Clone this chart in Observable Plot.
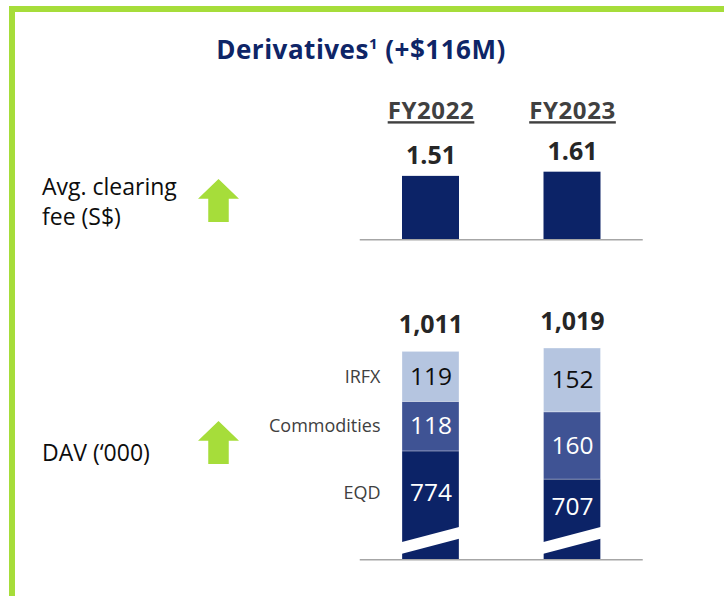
<!DOCTYPE html>
<html><head><meta charset="utf-8">
<script src="https://cdn.jsdelivr.net/npm/d3@7"></script>
<script src="https://cdn.jsdelivr.net/npm/@observablehq/plot@0.6"></script>
<style>
html,body{margin:0;padding:0;background:#fff;width:724px;height:596px;overflow:hidden;}
#stage{position:relative;width:724px;height:596px;overflow:hidden;font-family:"Open Sans",sans-serif;}
#frame{position:absolute;left:9px;top:6px;width:800px;height:596px;box-sizing:border-box;border:6px solid #a6dd3a;}
#title{position:absolute;left:0;top:36px;width:722px;text-align:center;font-size:26px;line-height:26px;letter-spacing:0.5px;font-weight:700;color:#0e2567;white-space:nowrap;}
#title .sup{font-size:15px;vertical-align:10px;line-height:0;}
.lbl{position:absolute;left:42px;font-size:23px;line-height:30px;color:#0d0d0d;white-space:nowrap;}
.arrow{position:absolute;left:198px;width:41px;height:43px;background:#a6dd3a;
  clip-path:polygon(50% 0,100% 46%,75% 46%,75% 100%,25% 100%,25% 46%,0 46%);}
.plot{position:absolute;left:0;}
g[aria-description="header"] text{text-decoration:underline;text-decoration-thickness:2px;text-underline-offset:3px;letter-spacing:0.6px;}
</style>
</head><body>
<div id="stage">
  <div id="frame"></div>
  <div id="title">Derivatives<span class="sup">1</span> (+$116M)</div>
  <div class="lbl" style="top:171px">Avg. clearing<br>fee (S$)</div>
  <div class="arrow" style="top:179px"></div>
  <div class="lbl" style="top:437px">DAV (‘000)</div>
  <div class="arrow" style="top:421px"></div>
</div>
<script>
// ---- data ----
const years = ["FY2022", "FY2023"];
const avgFee = [1.51, 1.61];
const segments = ["EQD", "Commodities", "IRFX"];
const eqd = [774, 707];
const commodities = [118, 160];
const irfx = [119, 152];
const totals = [1011, 1019];

// ---- styles ----
const navy = "#0c2367", mid = "#3f5394", light = "#b5c5e0";
const xRange = [359.75, 642.75];
const inset = 42.25;

const stage = document.getElementById("stage");

// ---- top panel: average clearing fee ----
const feeData = years.map((year, i) => ({year, fee: avgFee[i]}));
const feeChart = Plot.plot({
  width: 724, height: 160,
  marginLeft: xRange[0], marginRight: 724 - xRange[1], marginTop: 65.3, marginBottom: 10.7,
  style: {background: "transparent", maxWidth: "none", overflow: "visible", fontFamily: "Open Sans, sans-serif"},
  x: {domain: years, padding: 0, round: false, axis: null},
  y: {domain: [0, 2], axis: null},
  marks: [
    Plot.barY(feeData, {x: "year", y: "fee", fill: navy, insetLeft: inset, insetRight: inset}),
    Plot.ruleY([0], {stroke: "#a6a6a6", strokeWidth: 1.5}),
    Plot.text(feeData, {x: "year", y: "fee", text: d => d.fee.toFixed(2), dy: -20,
      fontSize: 25, fontWeight: 700, fill: "#262626"}),
    Plot.text(years, {x: d => d, text: d => d, frameAnchor: "top", lineAnchor: "middle", dy: -44.3,
      fontSize: 24, fontWeight: 700, fill: "#404040", ariaDescription: "header"})
  ]
});
feeChart.classList.add("plot");
feeChart.style.top = "90px";
stage.appendChild(feeChart);

// ---- bottom panel: DAV stacked ----
const segValues = {EQD: eqd, Commodities: commodities, IRFX: irfx};
const stackRows = years.flatMap((year, i) => {
  let acc = 0;
  return segments.map(seg => {
    const v = segValues[seg][i];
    const r = {year, seg, v, y1: acc, y2: acc + v};
    acc += v;
    return r;
  });
});
const totalData = years.map((year, i) => ({year, total: totals[i]}));

const yLo = 516, yHi = 1150;          // truncated axis (broken bars)
const brkC = yLo + 45, brkH = 14;     // break stripe position in axis units
const labelY = d => d.seg === "EQD" ? (d.y2 + brkC + brkH) / 2 : (d.y1 + d.y2) / 2;

const davChart = Plot.plot({
  width: 724, height: 280,
  marginLeft: xRange[0], marginRight: 724 - xRange[1], marginTop: 3, marginBottom: 10.7,
  style: {background: "transparent", maxWidth: "none", overflow: "visible", fontFamily: "Open Sans, sans-serif"},
  x: {domain: years, padding: 0, round: false, axis: null},
  y: {domain: [yLo, yHi], axis: null},
  color: {domain: segments, range: [navy, mid, light]},
  marks: [
    Plot.barY(stackRows, {x: "year", y1: "y1", y2: "y2", fill: "seg", clip: true,
      insetLeft: inset, insetRight: inset, stroke: "white", strokeWidth: 0.6, strokeOpacity: 0.5}),
    Plot.barY(years, {x: d => d, y1: brkC - brkH, y2: brkC + brkH, fill: "white",
      insetLeft: inset - 1, insetRight: inset - 1, ariaDescription: "break"}),
    Plot.ruleY([yLo], {stroke: "#a6a6a6", strokeWidth: 1.5}),
    Plot.text(stackRows, {filter: d => d.seg === "IRFX", x: "year", y: labelY, text: "v",
      fontSize: 24.5, fill: "#0d0d0d"}),
    Plot.text(stackRows, {filter: d => d.seg !== "IRFX", x: "year", y: labelY, text: "v",
      fontSize: 24.5, fill: "white"}),
    Plot.text(stackRows, {filter: d => d.year === years[0], x: "year", y: labelY, text: "seg",
      dx: -50.5, textAnchor: "end", fontSize: 18, fill: "#404040"}),
    Plot.text(totalData, {x: "year", y: "total", text: d => d3.format(",")(d.total), dy: -27,
      fontSize: 25, fontWeight: 700, fill: "#262626"})
  ]
});
davChart.classList.add("plot");
davChart.style.top = "290px";
stage.appendChild(davChart);

// skew the white break stripes
d3.select(davChart).selectAll('g[aria-description="break"] rect').each(function() {
  const x = +this.getAttribute("x"), y = +this.getAttribute("y");
  const w = +this.getAttribute("width"), h = +this.getAttribute("height");
  const cx = x + w / 2, cy = y + h / 2;
  this.setAttribute("transform", `translate(${cx},${cy}) skewY(-14.74) translate(${-cx},${-cy})`);
});
</script>
</body></html>
